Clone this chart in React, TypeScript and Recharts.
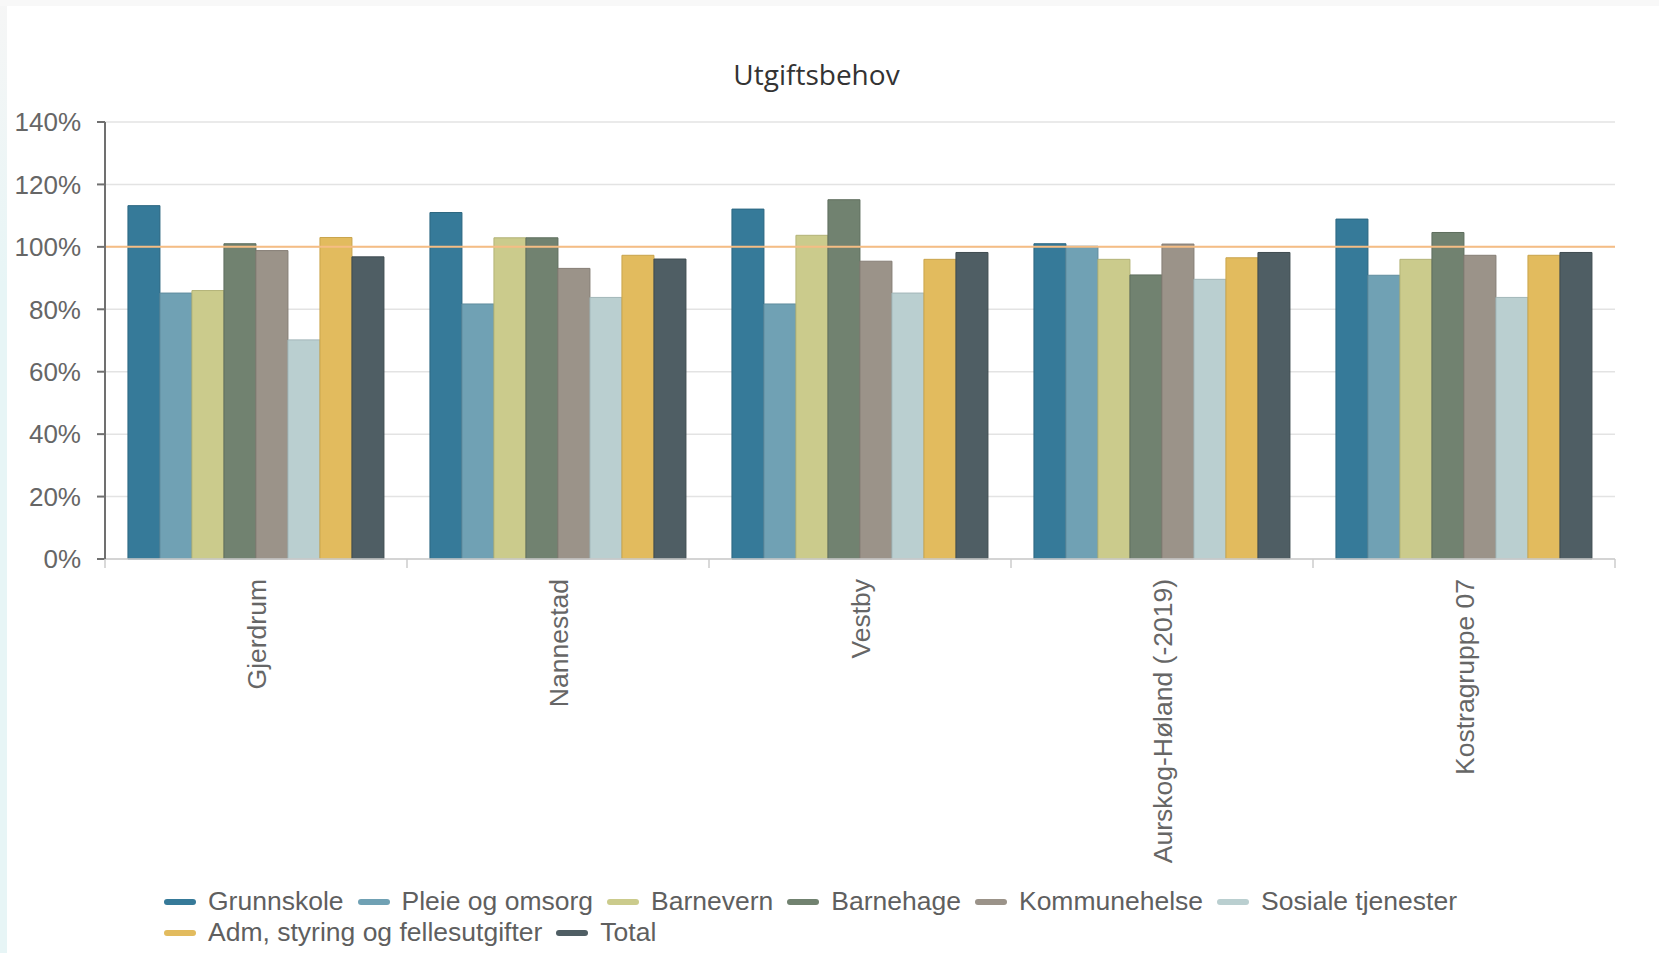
import React from "react"
import {
  Bar,
  BarChart,
  CartesianGrid,
  Legend,
  ReferenceLine,
  XAxis,
  YAxis,
} from "recharts"

const categories = [
  "Gjerdrum",
  "Nannestad",
  "Vestby",
  "Aurskog-Høland (-2019)",
  "Kostragruppe 07",
]

const seriesNames = [
  "Grunnskole",
  "Pleie og omsorg",
  "Barnevern",
  "Barnehage",
  "Kommunehelse",
  "Sosiale tjenester",
  "Adm, styring og fellesutgifter",
  "Total",
]

const grunnskole = [113.2, 111.0, 112.1, 101.0, 108.9]
const pleieOgOmsorg = [85.2, 81.7, 81.7, 100.2, 90.9]
const barnevern = [86.0, 102.9, 103.7, 96.0, 96.0]
const barnehage = [101.0, 102.9, 115.1, 91.0, 104.6]
const kommunehelse = [98.8, 93.1, 95.4, 100.9, 97.3]
const sosialeTjenester = [70.2, 83.8, 85.2, 89.6, 83.8]
const admStyring = [103.0, 97.3, 96.0, 96.5, 97.3]
const total = [96.8, 96.1, 98.2, 98.2, 98.2]

const yTicks = [0, 20, 40, 60, 80, 100, 120, 140]

const seriesValues = [
  grunnskole,
  pleieOgOmsorg,
  barnevern,
  barnehage,
  kommunehelse,
  sosialeTjenester,
  admStyring,
  total,
]

const fills = ["#367a99", "#70a1b4", "#cbcb8c", "#718270", "#9b9389", "#bacfd0", "#e2bb5e", "#4f5e64"]
const strokes = ["#2c6781", "#5f8c9e", "#b3b377", "#5f6e5e", "#857d74", "#a2b6b8", "#c9a44c", "#3f4c51"]

const data = categories.map((name, i) => {
  const row: Record<string, string | number> = { name }
  seriesNames.forEach((s, j) => {
    row[s] = seriesValues[j][i]
  })
  return row
})

const FONT = "'Liberation Sans', Arial, sans-serif"

function CategoryTick(props: any) {
  const { x, y, payload, index, visibleTicksCount } = props
  const half = payload && payload.offset ? payload.offset : 151
  const axisY = y - 20
  const isLast = index === (visibleTicksCount ?? categories.length) - 1
  return (
    <g>
      <line x1={x - half} x2={x - half} y1={axisY} y2={axisY + 9} stroke="#cccccc" strokeWidth={1.5} />
      {isLast && (
        <line x1={x + half} x2={x + half} y1={axisY} y2={axisY + 9} stroke="#cccccc" strokeWidth={1.5} />
      )}
      <text
        x={x}
        y={y}
        dy="0.38em"
        transform={`rotate(-90, ${x}, ${y})`}
        textAnchor="end"
        fill="#666666"
        fontSize={26.5}
        fontFamily={FONT}
      >
        {payload.value}
      </text>
    </g>
  )
}

function LegendContent(props: any) {
  const items = [...(props.payload || [])].sort(
    (a: any, b: any) => seriesNames.indexOf(a.value) - seriesNames.indexOf(b.value)
  )
  return (
    <div
      style={{
        display: "flex",
        flexWrap: "wrap",
        width: 1340,
        fontFamily: FONT,
        fontSize: 26.5,
        color: "#5f5f5f",
      }}
    >
      {items.map((item: any) => (
        <div key={item.value} style={{ display: "flex", alignItems: "center", height: 31, marginRight: 14 }}>
          <span
            style={{
              display: "inline-block",
              width: 32,
              height: 6,
              borderRadius: 3,
              background: item.color,
              marginRight: 12,
            }}
          />
          <span style={{ whiteSpace: "nowrap" }}>{item.value}</span>
        </div>
      ))}
    </div>
  )
}

export default function App() {
  return (
    <div style={{ position: "absolute", left: 0, top: 0, width: 1659, height: 953, background: "#ffffff" }}>
      <div
        style={{
          position: "absolute",
          left: 0,
          top: 0,
          width: 7,
          height: 953,
          background: "linear-gradient(#f6f6f6, #e7f5f6 30%, #e7f5f6)",
        }}
      />
      <div style={{ position: "absolute", left: 0, top: 0, width: 1659, height: 6, background: "#f8f8f8" }} />
      <div
        style={{
          position: "absolute",
          left: 0,
          top: 55,
          width: 1633,
          textAlign: "center",
          fontFamily: "'Open Sans', sans-serif",
          fontSize: 28,
          color: "#333333",
        }}
      >
        Utgiftsbehov
      </div>
      <BarChart
        width={1659}
        height={953}
        data={data}
        margin={{ top: 122, right: 44, left: 0, bottom: 0 }}
        barGap={0}
        barCategoryGap="7.6%"
      >
        <CartesianGrid vertical={false} stroke="#e3e3e3" strokeWidth={1.5} />
        <ReferenceLine y={100} stroke="#f5bd84" strokeWidth={2} />
        <XAxis
          dataKey="name"
          height={394}
          interval={0}
          axisLine={{ stroke: "#cccccc", strokeWidth: 1.5 }}
          tickLine={{ stroke: "none" }}
          tickSize={8}
          tickMargin={12}
          tick={(p: any) => <CategoryTick {...p} />}
        />
        <YAxis
          width={105}
          domain={[0, 140]}
          ticks={yTicks}
          interval={0}
          tickFormatter={(v: number) => `${v}%`}
          axisLine={{ stroke: "#707070", strokeWidth: 2 }}
          tickLine={{ stroke: "#707070", strokeWidth: 2 }}
          tickSize={8}
          tickMargin={16}
          tick={{ fill: "#666666", fontSize: 26, fontFamily: FONT }}
        />
        <Legend
          layout="vertical"
          align="center"
          verticalAlign="middle"
          itemSorter={null}
          content={(p: any) => <LegendContent {...p} />}
          wrapperStyle={{ left: 164, top: 886, bottom: "auto", width: 1340 }}
        />
        {seriesNames.map((s, j) => (
          <Bar
            key={s}
            dataKey={s}
            fill={fills[j]}
            stroke={strokes[j]}
            strokeWidth={1}
            isAnimationActive={false}
          />
        ))}
      </BarChart>
    </div>
  )
}
